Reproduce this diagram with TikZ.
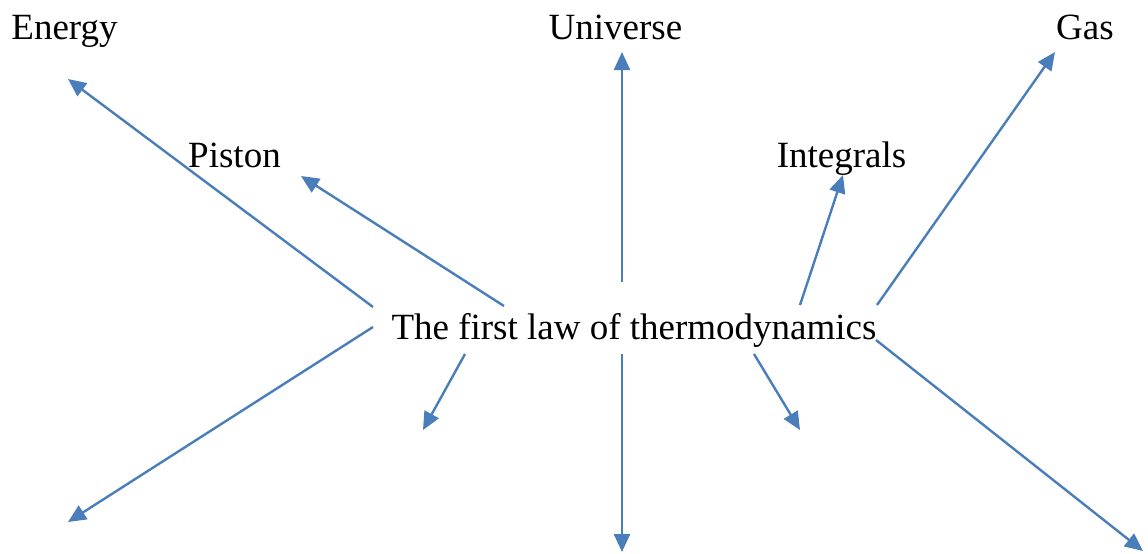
\documentclass[tikz,border=0pt]{standalone}
\usepackage{fontspec}
\setmainfont{Liberation Serif}
\newfontfamily\tnrfont{Liberation Serif}
\usetikzlibrary{arrows.meta}
\definecolor{linkblue}{RGB}{74,126,187}
\begin{document}
\begin{tikzpicture}[x=0.5pt,y=-0.5pt,
  lbl/.style={inner sep=0pt,anchor=base,font=\tnrfont\fontsize{18.5pt}{22pt}\selectfont},
  link/.style={draw=linkblue,line width=1.2pt,-{Triangle[length=9pt,width=8pt]},fill=linkblue}]
\useasboundingbox (0,0) rectangle (1148,553);
% labels
\node[lbl] (center) at (634,339) {The first law of thermodynamics};
\node[lbl] (energy) at (64.5,39) {Energy};
\node[lbl] (universe) at (615.5,39) {Universe};
\node[lbl] (gas) at (1085,39) {Gas};
\node[lbl] (piston) at (234.5,167) {Piston};
\node[lbl] (integrals) at (841.5,167) {Integrals};
% start points
\coordinate (sEnergy) at (373,307);
\coordinate (sPiston) at (504,306);
\coordinate (sUniverse) at (622,282);
\coordinate (sIntegrals) at (800,305);
\coordinate (sGas) at (877,305);
\coordinate (sLL) at (373,327);
\coordinate (sLS) at (465,354);
\coordinate (sDown) at (622,354);
\coordinate (sRS) at (754,354);
\coordinate (sRL) at (876,340);
% tips
\coordinate (tEnergy) at (68,79);
\coordinate (tPiston) at (301,176);
\coordinate (tUniverse) at (622,52);
\coordinate (tIntegrals) at (843,175);
\coordinate (tGas) at (1055,52);
\coordinate (tLL) at (68,522);
\coordinate (tLS) at (423,430);
\coordinate (tDown) at (622,552);
\coordinate (tRS) at (800,430);
\coordinate (tRL) at (1143,551);
% connectors
\draw[link] (sEnergy) -- (tEnergy);
\draw[link] (sPiston) -- (tPiston);
\draw[link] (sUniverse) -- (tUniverse);
\draw[link] (sIntegrals) -- (tIntegrals);
\draw[link] (sGas) -- (tGas);
\draw[link] (sLL) -- (tLL);
\draw[link] (sLS) -- (tLS);
\draw[link] (sDown) -- (tDown);
\draw[link] (sRS) -- (tRS);
\draw[link] (sRL) -- (tRL);
\end{tikzpicture}
\end{document}
